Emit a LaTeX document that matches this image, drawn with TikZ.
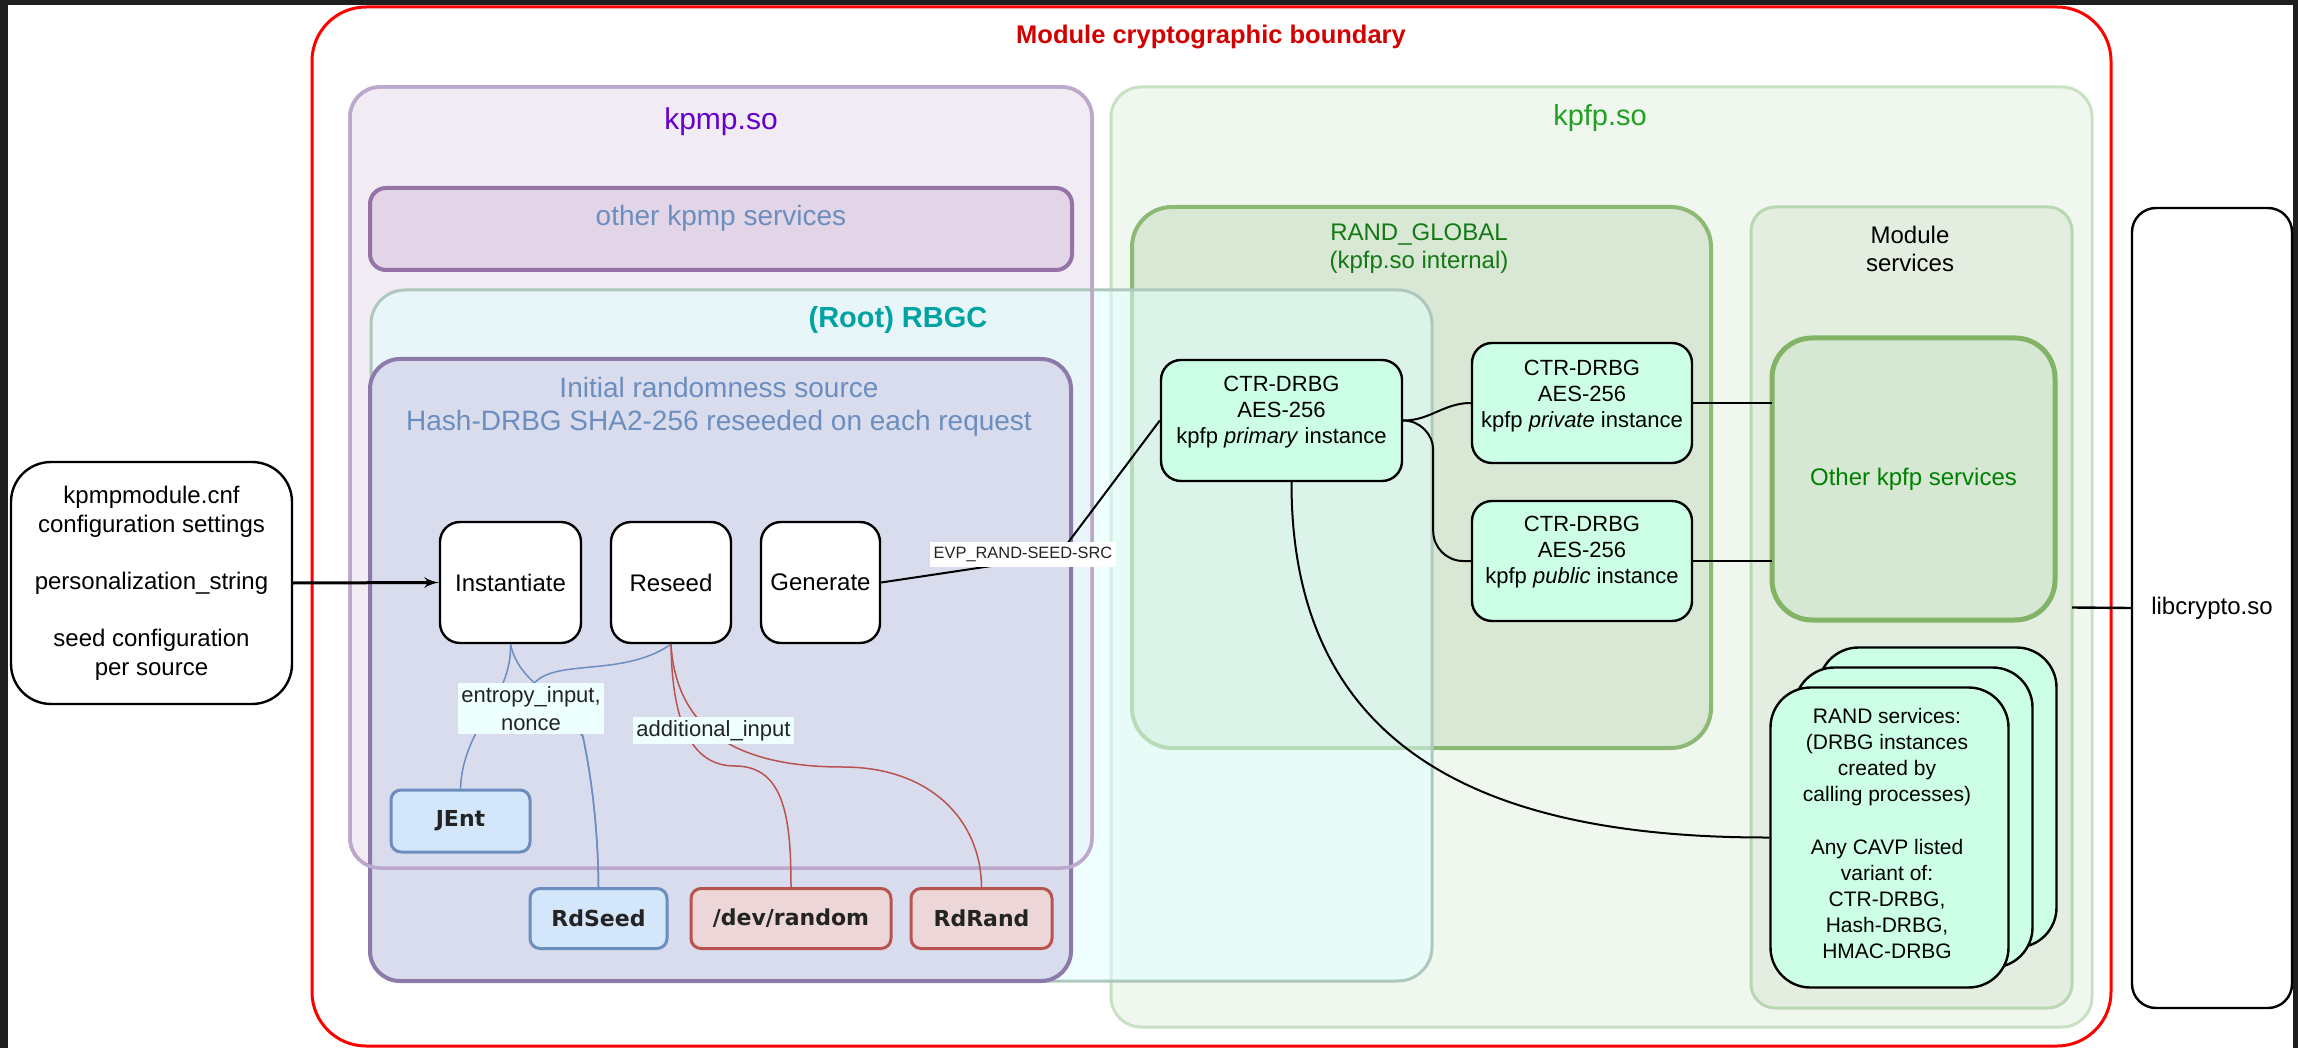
\documentclass[tikz,border=0pt]{standalone}
\usepackage{fontspec}
\setmainfont{Liberation Sans}
\newfontfamily\srcfont{DejaVu Sans}
\usetikzlibrary{arrows}
\definecolor{framedark}{RGB}{30,30,30}
\definecolor{bndred}{RGB}{255,0,0}
\definecolor{bndtext}{RGB}{210,0,0}
\definecolor{kpmpfill}{RGB}{241,235,244}
\definecolor{kpmpedge}{RGB}{188,168,205}
\definecolor{kpmptext}{RGB}{102,0,204}
\definecolor{svcfill}{RGB}{225,213,231}
\definecolor{svcedge}{RGB}{150,115,166}
\definecolor{greyblue}{RGB}{108,142,191}
\definecolor{rbgcfill}{RGB}{224,255,255}
\definecolor{rbgcedge}{RGB}{175,200,190}
\definecolor{rbgctext}{RGB}{0,163,163}
\definecolor{initfill}{RGB}{217,220,236}
\definecolor{initedge}{RGB}{140,122,170}
\definecolor{kpfpfill}{RGB}{240,247,239}
\definecolor{kpfpedge}{RGB}{200,225,195}
\definecolor{kpfptext}{RGB}{34,160,34}
\definecolor{rglobfill}{RGB}{216,232,213}
\definecolor{rglobedge}{RGB}{140,185,115}
\definecolor{rglobtext}{RGB}{20,120,20}
\definecolor{modfill}{RGB}{227,238,225}
\definecolor{modedge}{RGB}{185,215,178}
\definecolor{othfill}{RGB}{214,232,212}
\definecolor{othedge}{RGB}{130,179,102}
\definecolor{othtext}{RGB}{0,128,0}
\definecolor{drbgmint}{RGB}{204,255,230}
\definecolor{srcblue}{RGB}{108,142,191}
\definecolor{srcbluefill}{RGB}{212,230,250}
\definecolor{srcred}{RGB}{184,84,80}
\definecolor{srcredfill}{RGB}{236,214,216}
\definecolor{lblfill}{RGB}{238,255,255}
\definecolor{textdark}{RGB}{35,35,35}

\begin{document}
\begin{tikzpicture}[x=0.5pt,y=-0.5pt,
		grp/.style={rounded corners=15pt, inner sep=0pt, outer sep=0pt},
		box/.style={draw=black, line width=1.2pt, fill=white, rounded corners=10pt, inner sep=0pt, align=center, font=\fontsize{12}{14.5}\selectfont},
		drbg/.style={box, fill=drbgmint, minimum width=110pt, minimum height=60pt},
		ctrtxt/.style={inner sep=0pt, align=center, font=\fontsize{11}{13}\selectfont},
		src/.style={line width=1.5pt, rounded corners=5pt, inner sep=0pt, minimum height=30pt, text=textdark, font=\srcfont\bfseries\fontsize{11}{13}\selectfont},
		bluesrc/.style={src, draw=srcblue, fill=srcbluefill},
		redsrc/.style={src, draw=srcred, fill=srcredfill},
		title/.style={inner sep=0pt, align=center},
		conn/.style={draw=black, line width=1pt},
		bconn/.style={draw=srcblue, line width=0.75pt},
		rconn/.style={draw=srcred, line width=0.75pt},
		lbl/.style={fill=lblfill, inner sep=1.5pt, align=center, text=textdark, font=\fontsize{11}{14}\selectfont}]
		\useasboundingbox (0,0) rectangle (2298,1048);
		% screen frame
		\fill[framedark] (0,0) rectangle (2298,1048);
		\fill[white] (8,5) rectangle (2293,1048);
		
		%% module boundary
		\node[grp, draw=bndred, line width=1.5pt, rounded corners=27pt, minimum width=899.5pt, minimum height=519.5pt] (bnd) at (1211.5,526.5) {};
		\node[title, text=bndtext, font=\bfseries\fontsize{12.75}{15}\selectfont] (bndtitle) at (1211,37) {Module cryptographic boundary};
		
		%% kpfp.so
		\node[grp, draw=kpfpedge, fill=kpfpfill, line width=1.5pt, minimum width=490.5pt, minimum height=470pt] (kpfp) at (1601.5,557) {};
		\node[title, text=kpfptext, font=\fontsize{14.5}{17}\selectfont] (kpfptitle) at (1600,118) {kpfp.so};
		\node[grp, draw=rglobedge, fill=rglobfill, line width=2pt, rounded corners=20pt, minimum width=289.5pt, minimum height=270.5pt] (rglob) at (1421.5,477.5) {};
		\node[title, text=rglobtext, font=\fontsize{12}{14}\selectfont] (rglobtitle) at (1419,249) {RAND\_GLOBAL\\(kpfp.so internal)};
		\node[grp, draw=modedge, fill=modfill, line width=1.5pt, rounded corners=12pt, minimum width=160.5pt, minimum height=400.5pt] (modsvc) at (1911.5,607.5) {};
		\node[title, font=\fontsize{12}{14}\selectfont] (modtitle) at (1910,249) {Module\\services};
		\node[grp, draw=othedge, fill=othfill, line width=2.5pt, rounded corners=20pt, minimum width=141.5pt, minimum height=141pt, text=othtext, font=\fontsize{12}{14}\selectfont] (othsvc) at (1913.5,479) {Other kpfp services};
		
		%% kpmp.so
		\node[grp, draw=kpmpedge, fill=kpmpfill, line width=1.75pt, minimum width=371pt, minimum height=390.5pt] (kpmp) at (721,477.5) {};
		\node[title, text=kpmptext, font=\fontsize{15}{18}\selectfont] (kpmptitle) at (721,122) {kpmp.so};
		\node[grp, draw=svcedge, fill=svcfill, line width=2pt, rounded corners=8pt, minimum width=351pt, minimum height=41pt] (kpmpsvc) at (721,229) {};
		\node[title, text=greyblue, font=\fontsize{14}{17}\selectfont] (kpmpsvctxt) at (721,218) {other kpmp services};
		
		%% (Root) RBGC
		\node[grp, draw=rbgcedge, fill=rbgcfill, fill opacity=0.5, line width=1.5pt, rounded corners=17pt, minimum width=530.5pt, minimum height=345.5pt] (rbgc) at (901.5,635.5) {};
		\node[title, text=rbgctext, font=\bfseries\fontsize{14.5}{17}\selectfont] (rbgctitle) at (898,320) {(Root) RBGC};
		\node[grp, draw=initedge, fill=initfill, line width=2pt, minimum width=350.5pt, minimum height=311pt] (init) at (720.5,670) {};
		\node[title, text=greyblue, font=\fontsize{14}{16.5}\selectfont] (inittitle) at (719,406.5) {Initial randomness source\\Hash-DRBG SHA2-256 reseeded on each request};
		% kpmp.so outline shows through
		\draw[draw=kpmpedge, line width=1.75pt, rounded corners=15pt] (kpmp.south west) rectangle (kpmp.north east);
		
		\node[box, minimum width=70.5pt, minimum height=60.5pt] (inst) at (510.5,582.5) {Instantiate};
		\node[box, minimum width=60pt, minimum height=60.5pt] (resd) at (671,582.5) {Reseed};
		\node[box, minimum width=59.5pt, minimum height=60.5pt] (gen) at (820.5,582.5) {Generate};
		
		% entropy sources
		\node[bluesrc, minimum width=69.5pt, minimum height=31pt] (jent) at (460.5,821) {JEnt};
		\node[bluesrc, minimum width=68.5pt] (rdseed) at (598.5,918.5) {RdSeed};
		\node[redsrc, minimum width=100pt] (devrnd) at (791,918.5) {/dev/random};
		\node[redsrc, minimum width=70.5pt] (rdrand) at (981.5,918.5) {RdRand};
		
		%% kpfp DRBG instances
		\node[drbg, minimum width=120.5pt, minimum height=60.5pt] (prim) at (1281.5,420.5) {};
		\node[ctrtxt] (primtxt) at (1281.5,412) {CTR-DRBG\\AES-256\\kpfp \textit{primary} instance};
		\node[drbg] (priv) at (1582,403) {};
		\node[ctrtxt] (privtxt) at (1582,396) {CTR-DRBG\\AES-256\\kpfp \textit{private} instance};
		\node[drbg] (pub) at (1582,561) {};
		\node[ctrtxt] (pubtxt) at (1582,552) {CTR-DRBG\\AES-256\\kpfp \textit{public} instance};
		
		% RAND services stack
		\foreach \i in {2,1,0}
			\node[box, fill=drbgmint, rounded corners=20pt, minimum width=119pt, minimum height=150pt] (rnd\i) at (1889.5+24*\i, 837.5-20*\i) {};
		\node[title, font=\fontsize{10.5}{13.1}\selectfont] (rndtxt) at (1887,833.5) {RAND services:\\(DRBG instances\\created by\\calling processes)\\[13.1pt]Any CAVP listed\\variant of:\\CTR-DRBG,\\Hash-DRBG,\\HMAC-DRBG};
		
		%% outside the boundary
		\node[box, rounded corners=20pt, minimum width=140.5pt, minimum height=121pt] (cfg) at (151.5,583) {kpmpmodule.cnf\\configuration settings\\[14pt]personalization\_string\\[14pt]seed configuration\\per source};
		\node[box, rounded corners=12pt, minimum width=80pt, minimum height=400pt] (libc) at (2212,608) {libcrypto.so};
		
		%% connectors
		\draw[-latex', line width=1.5pt] (cfg.east) -- (inst.west);
		\coordinate (evpbend) at (1058,556);
		\draw[conn] (gen.east) -- (evpbend) -- (prim.west);
		\draw[conn] (prim.east) to[out=0,in=180] (priv.west);
		\draw[conn, rounded corners=15pt] (prim.east) -- ++(30,0) |- (pub.west);
		\draw[conn] (priv.east) -- (priv.east -| othsvc.west);
		\draw[conn] (pub.east) -- (pub.east -| othsvc.west);
		\draw[conn] ([xshift=5pt]prim.south) .. controls (1291,760) and (1500,838) .. (rnd0.west);
		\draw[conn, line width=1.2pt] (modsvc.east) -- (libc.west);
		
		% seed inputs
		\coordinate (seedjoin) at (583,737);
		\draw[bconn] (inst.south) .. controls (512,700) and (463,725) .. (jent.north);
		\draw[bconn] (inst.south) .. controls (520,690) and (575,700) .. (seedjoin) .. controls (592,780) and (598,830) .. (rdseed.north);
		\draw[bconn] (resd.south) .. controls (620,680) and (545,655) .. (530,690) .. controls (525,715) and (570,715) .. (seedjoin) .. controls (592,780) and (598,830) .. (rdseed.north);
		\draw[rconn] (resd.south) .. controls (672,720) and (690,766) .. (735,766) .. controls (785,766) and (791,820) .. (devrnd.north);
		\draw[rconn] (resd.south) .. controls (676,725) and (730,767) .. (843,767) .. controls (930,767) and (981,820) .. (rdrand.north);
		
		\node[lbl] (entlbl) at (531,708.5) {entropy\_input,\\nonce};
		\node[lbl, minimum height=12.5pt] (addlbl) at (713.5,730.5) {additional\_input};
		\node[lbl, fill=white, inner xsep=2pt, minimum height=12.5pt, font=\fontsize{8.2}{10}\selectfont] (evp) at (1023,554.5) {EVP\_RAND-SEED-SRC};
	\end{tikzpicture}
\end{document}
